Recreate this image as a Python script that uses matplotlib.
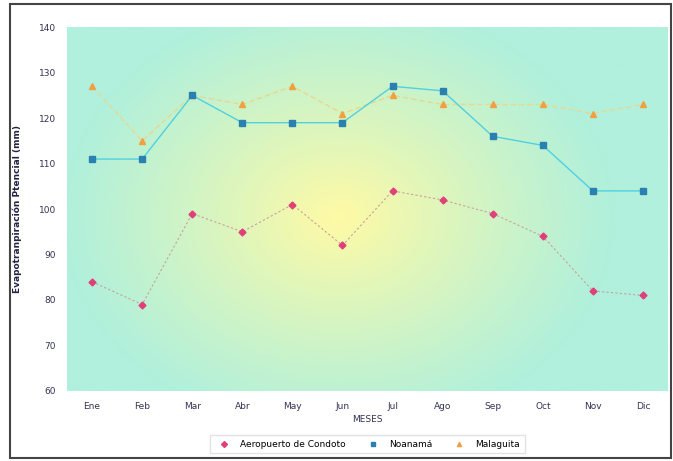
import numpy as np
import matplotlib
matplotlib.use("Agg")
import matplotlib.pyplot as plt
from matplotlib.patches import Rectangle

meses = ["Ene", "Feb", "Mar", "Abr", "May", "Jun", "Jul", "Ago", "Sep", "Oct", "Nov", "Dic"]
condoto = [84, 79, 99, 95, 101, 92, 104, 102, 99, 94, 82, 81]
noanama = [111, 111, 125, 119, 119, 119, 127, 126, 116, 114, 104, 104]
malaguita = [127, 115, 125, 123, 127, 121, 125, 123, 123, 123, 121, 123]

fig = plt.figure(figsize=(6.73, 4.61), dpi=100)
ax = fig.add_axes([0.0996, 0.152, 0.893, 0.789])

# fondo con degradado: menta alrededor, amarillo en el centro
ny, nx = 200, 300
yy, xx = np.mgrid[0:ny, 0:nx]
cx, cy = 0.45 * nx, 0.52 * ny
d = np.sqrt(((xx - cx) / (0.46 * nx)) ** 2 + ((yy - cy) / (0.6 * ny)) ** 2)
w = np.clip(1 - d, 0, 1) ** 1.1
mint = np.array([176, 240, 220]) / 255
yellow = np.array([255, 250, 165]) / 255
img = mint[None, None, :] * (1 - w[..., None]) + yellow[None, None, :] * w[..., None]
ax.imshow(img, extent=(-0.5, 11.5, 60, 140), aspect="auto", origin="upper", zorder=0)

x = np.arange(len(meses))
ax.plot(x, condoto, color="#c9a0a0", lw=0.8, ls=(0, (2, 2)), marker="D", ms=3.5,
        mfc="#e0407a", mec="#e0407a", label="Aeropuerto de Condoto", zorder=3)
ax.plot(x, noanama, color="#50d0e0", lw=1.0, marker="s", ms=4,
        mfc="#2a80b0", mec="#2a80b0", label="Noanamá", zorder=4)
ax.plot(x, malaguita, color="#e8d890", lw=1.0, ls=(0, (4, 2)), marker="^", ms=5,
        mfc="#f0a040", mec="#f0a040", label="Malaguita", zorder=3)

ax.set_xlim(-0.5, 11.5)
ax.set_ylim(60, 140)
ax.set_xticks(x)
ax.set_xticklabels(meses)
ax.set_yticks(np.arange(60, 141, 10))
ax.tick_params(length=0, labelsize=6.5, colors="#333355", pad=8)
for s in ax.spines.values():
    s.set_visible(False)
ax.set_xlabel("MESES", fontsize=6.5, color="#333355", labelpad=3)
ax.set_ylabel("Evapotranpiración Ptencial (mm)", fontsize=6.5, fontweight="bold",
              color="#222244", labelpad=12)

leg = ax.legend(loc="upper center", bbox_to_anchor=(0.5, -0.11), ncol=3, fontsize=6.5,
                frameon=True, fancybox=False, edgecolor="#dddddd", handlelength=2,
                columnspacing=2.0, borderpad=0.5)
for h in leg.legend_handles:
    h.set_linestyle("none")
    h.set_markersize(3)

# marco de la figura
fig.patches.append(Rectangle((10 / 673, 3 / 461), 661 / 673, 454 / 461, transform=fig.transFigure,
                             fill=False, edgecolor="#444444", lw=1.5))

fig.savefig("out.png", dpi=100)
